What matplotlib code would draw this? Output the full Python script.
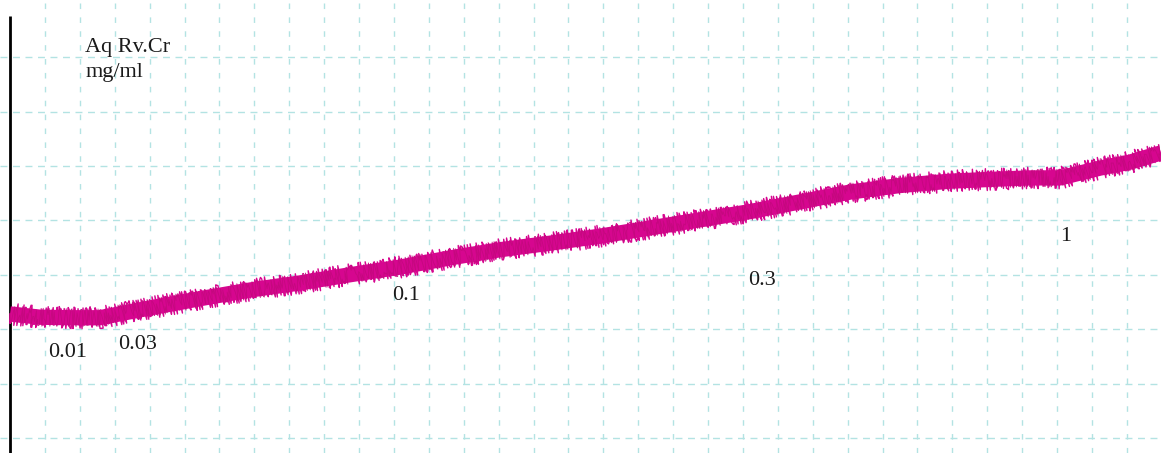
import matplotlib
matplotlib.use("Agg")
import matplotlib.pyplot as plt
import numpy as np

# curve, x and y in grid-cell units (axis line at x = 0)
trace_x = [0.0, 0.86, 1.72, 2.58, 3.44, 4.01, 5.44, 6.88, 8.31, 9.74, 11.17,
           12.61, 14.04, 15.47, 16.91, 18.34, 19.77, 21.20, 22.64, 24.07,
           25.50, 26.93, 28.37, 29.23, 30.09, 31.23, 32.09, 32.98]
trace_y = [2.28, 2.22, 2.21, 2.21, 2.32, 2.39, 2.56, 2.72, 2.85, 3.00, 3.14,
           3.31, 3.46, 3.58, 3.71, 3.86, 4.01, 4.16, 4.34, 4.52,
           4.64, 4.72, 4.76, 4.78, 4.78, 4.96, 5.07, 5.24]

# concentration markers written under the trace
conc_labels = ["0.01", "0.03", "0.1", "0.3", "1"]
conc_x = [1.09, 3.09, 10.95, 21.15, 30.09]
conc_y = [1.58, 1.71, 2.61, 2.90, 3.71]

title_lines = ["Aq Rv.Cr", "mg/ml"]

fig = plt.figure(figsize=(11.61, 4.53), dpi=100)
ax = fig.add_axes([0, 0, 1, 1])
ax.set_xlim(-0.287, 32.98)
ax.set_ylim(-0.276, 8.05)
ax.axis("off")

grid_col = "#b3e3e3"
for gx in range(1, 34):
    ax.axvline(gx, color=grid_col, lw=1.0, ls=(0, (4, 6)), zorder=0)
for gy in range(0, 8):
    ax.axhline(gy, color=grid_col, lw=1.0, ls=(0, (5, 4)), zorder=0)

# left axis line
ax.plot([0, 0], [-0.3, 7.76], color="black", lw=2.0, solid_capstyle="butt")

mag = "#d6068f"
ax.plot(trace_x, trace_y, color=mag, lw=11, solid_capstyle="butt", zorder=3)
noise = ax.plot(trace_x, trace_y, color=mag, lw=1.0, zorder=3)[0]
noise.set_sketch_params(scale=11, length=2, randomness=3)
noise2 = ax.plot(trace_x, trace_y, color="#c5087f", lw=0.6, zorder=3)[0]
noise2.set_sketch_params(scale=9, length=2, randomness=4)

font = dict(family="Liberation Serif", fontsize=16, color="#1a1a1a")
for lab, lx, ly in zip(conc_labels, conc_x, conc_y):
    ax.text(lx, ly, lab, ha="left", va="center", **font)

ax.text(2.15, 7.17, title_lines[0], ha="left", va="center", **font)
ax.text(2.15, 6.71, title_lines[1], ha="left", va="center", **font)

fig.savefig("out.png", dpi=100)
